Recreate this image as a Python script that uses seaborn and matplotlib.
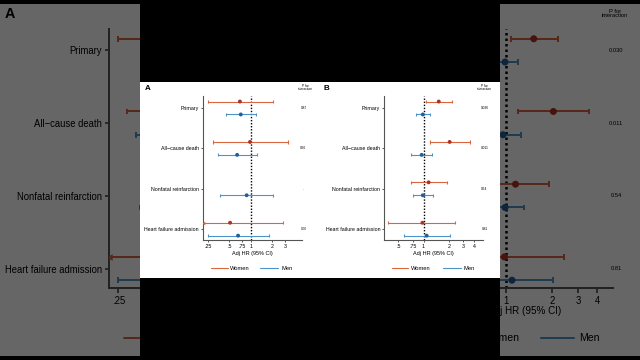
import numpy as np
import pandas as pd
import matplotlib
matplotlib.use("Agg")
import matplotlib.pyplot as plt
import seaborn as sns
from matplotlib.patches import Rectangle
from matplotlib.lines import Line2D
from matplotlib.ticker import NullLocator

# ---------------- data ----------------
outcomes = ["Primary", "All\u2212cause death", "Nonfatal reinfarction", "Heart failure admission"]

A_women_hr = [0.70, 0.97, np.nan, 0.51]
A_women_lo = [0.25, 0.29, np.nan, 0.20]
A_women_hi = [2.01, 3.27, np.nan, 2.78]
A_men_hr = [0.72, 0.64, 0.87, 0.66]
A_men_lo = [0.45, 0.34, 0.37, 0.25]
A_men_hi = [1.17, 1.23, 2.05, 1.80]
A_pvals = ["0.87", "0.56", ".", "0.76"]
A_ticks = [0.25, 0.5, 0.75, 1, 2, 3]
A_ticklabels = [".25", ".5", ".75", "1", "2", "3"]

B_women_hr = [1.52, 2.05, 1.15, 0.97]
B_women_lo = [1.08, 1.19, 0.71, 0.38]
B_women_hi = [2.20, 3.55, 1.92, 2.40]
B_men_hr = [0.98, 0.95, 0.98, 1.09]
B_men_lo = [0.81, 0.71, 0.74, 0.59]
B_men_hi = [1.19, 1.25, 1.30, 2.05]
B_pvals = ["0.030", "0.011", "0.54", "0.81"]
B_ticks = [0.5, 0.75, 1, 2, 3, 4]
B_ticklabels = [".5", ".75", "1", "2", "3", "4"]

groups = ["Women", "Men"]
x_label = "Adj HR (95% CI)"
p_header = "P for\ninteraction"


def make_df(w_hr, w_lo, w_hi, m_hr, m_lo, m_hi):
    rows = []
    for i, o in enumerate(outcomes):
        rows.append(dict(outcome=o, sex="Women", hr=w_hr[i], lo=w_lo[i], hi=w_hi[i], row=i))
        rows.append(dict(outcome=o, sex="Men", hr=m_hr[i], lo=m_lo[i], hi=m_hi[i], row=i))
    df = pd.DataFrame(rows).dropna()
    df["ypos"] = df["row"] + np.where(df["sex"] == "Women", -0.16, 0.16)
    return df


dfA = make_df(A_women_hr, A_women_lo, A_women_hi, A_men_hr, A_men_lo, A_men_hi)
dfB = make_df(B_women_hr, B_women_lo, B_women_hi, B_men_hr, B_men_lo, B_men_hi)

line_col = {"Women": "#d9663f", "Men": "#4b93c9"}
mark_col = {"Women": "#b0321f", "Men": "#225f99"}

panels = [
    dict(letter="A", df=dfA, pvals=A_pvals, ticks=A_ticks, tl=A_ticklabels,
         xlim=(0.213, 5.18), left=203, right=302, letter_x=145, hdr_x=305, p_x=303.5,
         leg=(211, 228, 230, 260, 278, 281)),
    dict(letter="B", df=dfB, pvals=B_pvals, ticks=B_ticks, tl=B_ticklabels,
         xlim=(0.34, 5.13), left=384.3, right=483, letter_x=324, hdr_x=484, p_x=484.5,
         leg=(392, 408, 411, 443, 461, 464)),
]

# ---------------- figure ----------------
sns.set_theme(style="white")
plt.rcParams["font.family"] = ["Liberation Sans", "DejaVu Sans"]

W, H = 640, 360
fig = plt.figure(figsize=(6.4, 3.6), dpi=100, facecolor="black")

TOP, BOT = 96, 240
ROW_TOP_PX = 108
ROW_STEP = 40.4
COL_L, COL_R = 140, 500


def draw_frame(scale, z):
    bg = scale > 1

    def P(x, y):
        return 320 + (x - 320) * scale, 180 + (y - 180) * scale

    def F(x, y):
        X, Y = P(x, y)
        return X / W, 1 - Y / H

    def fs(px):
        return px * 0.72 * scale

    def hidden(x, width, ha):
        # True when a background text would lie entirely under the central column
        if not bg:
            return False
        if ha == "left":
            a, b = x, x + width
        else:
            a, b = x - width / 2, x + width / 2
        A, B = P(a, 0)[0], P(b, 0)[0]
        return A > COL_L and B < COL_R

    def txt(x, y, s, size, width, ha="center", **kw):
        if hidden(x, width, ha):
            return
        fig.text(*F(x, y), s, fontsize=fs(size), ha=ha, va="center", color="black",
                 zorder=z + 0.2, **kw)

    fx0, fy1 = F(140, 82)
    fx1, fy0 = F(500, 278)
    fig.add_artist(Rectangle((fx0, fy0), fx1 - fx0, fy1 - fy0, transform=fig.transFigure,
                             facecolor="white", edgecolor="none", zorder=z))

    for sp in panels:
        al, at = F(sp["left"], TOP)
        ar, ab = F(sp["right"], BOT)
        ax = fig.add_axes([al, ab, ar - al, at - ab])
        ax.set_zorder(z + 0.1)
        ax.set_facecolor("none")
        df = sp["df"]
        xmin, xmax = sp["xlim"]
        ax.set_xscale("log")
        ax.set_xlim(xmin, xmax)
        y_top = -(ROW_TOP_PX - TOP) / ROW_STEP
        y_bot = 3 + (BOT - (ROW_TOP_PX + 3 * ROW_STEP)) / ROW_STEP
        ax.set_ylim(y_bot, y_top)

        ax.axvline(1, color="black", linestyle=(0, (1, 1.2)), linewidth=1.0 * scale, zorder=1)

        for g in groups:
            d = df[df["sex"] == g]
            lo = np.maximum(d["lo"].values, xmin)
            ax.hlines(d["ypos"], lo, d["hi"], colors=line_col[g], linewidth=0.8 * scale, zorder=2)
            capped = d["lo"].values >= xmin
            ys = np.concatenate([d["ypos"].values[capped], d["ypos"].values])
            ax.vlines(np.concatenate([lo[capped], d["hi"].values]), ys - 0.04, ys + 0.04,
                      colors=line_col[g], linewidth=0.8 * scale, zorder=2)
            if (~capped).any():
                ax.scatter(lo[~capped], d["ypos"].values[~capped], marker="<",
                           s=(2.6 * scale) ** 2, color=line_col[g], linewidths=0, zorder=3)

        sns.scatterplot(data=df, x="hr", y="ypos", hue="sex", palette=mark_col, ax=ax,
                        s=(2.8 * scale) ** 2, linewidth=0, legend=False, zorder=4)

        ax.set_xticks(sp["ticks"])
        ax.set_xticklabels(sp["tl"])
        ax.xaxis.set_minor_locator(NullLocator())
        ax.set_yticks(range(len(outcomes)))
        if bg and sp["letter"] == "B":
            ax.set_yticklabels([])  # lies under the central column
        else:
            ax.set_yticklabels(outcomes)
        ax.set_xlabel("")
        ax.set_ylabel("")
        ax.tick_params(axis="both", which="major", labelsize=fs(5.3), length=2.5 * scale * 0.72,
                       width=0.7 * scale, color="#555555", pad=1.2 * scale, labelcolor="black")
        ax.tick_params(axis="x", bottom=True)
        ax.tick_params(axis="y", left=True)
        for s in ["top", "right"]:
            ax.spines[s].set_visible(False)
        for s in ["left", "bottom"]:
            ax.spines[s].set_color("#555555")
            ax.spines[s].set_linewidth(0.8 * scale)

        # texts
        txt(sp["letter_x"], 88, sp["letter"], 8, 6, ha="left", fontweight="bold")
        txt(sp["hdr_x"], 87.5, p_header, 3.2, 20, linespacing=0.95)
        for i, pv in enumerate(sp["pvals"]):
            txt(sp["p_x"], ROW_TOP_PX + i * ROW_STEP, pv, 3.2, 8)
        cx = (sp["left"] + sp["right"]) / 2
        txt(cx, 253, x_label, 5.5, 42)
        l0, l1, t1, m0, m1, t2 = sp["leg"]
        for (a, b, t, g, wdt) in [(l0, l1, t1, "Women", 21), (m0, m1, t2, "Men", 12)]:
            (xa, ya), (xb, yb) = F(a, 268), F(b, 268)
            fig.add_artist(Line2D([xa, xb], [ya, yb], transform=fig.transFigure,
                                  color=line_col[g], linewidth=0.8 * scale, zorder=z + 0.2))
            txt(t, 268, g, 5.8, wdt, ha="left")


# background: zoomed copy, dimmed
draw_frame(1.8, 0.1)
fig.add_artist(Rectangle((0, 0), 1, 1, transform=fig.transFigure, facecolor="black",
                         alpha=0.6, edgecolor="none", zorder=1))
# central black column
fig.add_artist(Rectangle((COL_L / W, 0), (COL_R - COL_L) / W, 1, transform=fig.transFigure,
                         facecolor="black", edgecolor="none", zorder=1.5))
# foreground frame
draw_frame(1.0, 2)

fig.savefig("out.png", dpi=100, facecolor="black")
